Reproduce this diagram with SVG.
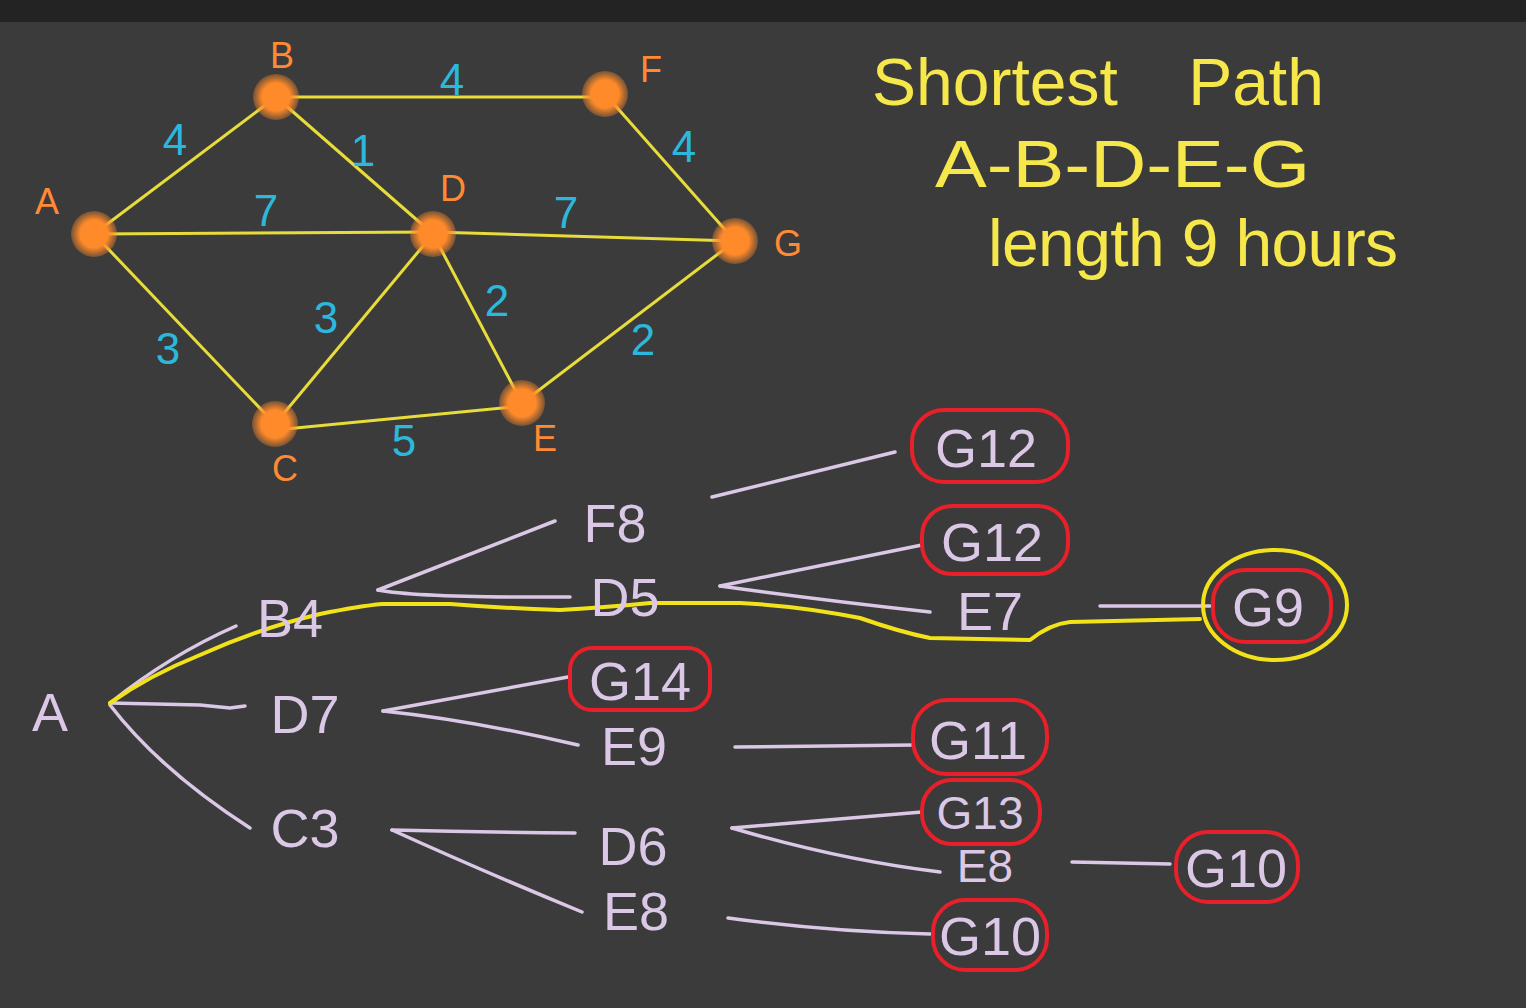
<svg xmlns="http://www.w3.org/2000/svg" width="1526" height="1008" viewBox="0 0 1526 1008">
<defs>
<radialGradient id="dot">
<stop offset="0.6" stop-color="#ff8a2a"/>
<stop offset="1" stop-color="#ff8a2a" stop-opacity="0.3"/>
</radialGradient>
</defs>
<style>
text{font-family:"Liberation Sans","DejaVu Sans",sans-serif;}
.edge{stroke:#e8dc3a;stroke-width:3;fill:none;}
.w{fill:#2bb8dc;font-size:44px;text-anchor:middle;}
.nl{fill:#ff8a33;font-size:36px;text-anchor:middle;}
.title{fill:#f6e84a;font-size:66px;}
.tl{stroke:#dac8e6;stroke-width:3.5;fill:none;stroke-linecap:round;stroke-linejoin:round;}
.tt{fill:#dac8e6;font-size:54px;text-anchor:middle;}
.sm{font-size:46px;}
.red{stroke:#e8202a;stroke-width:4;fill:none;}
.yel{stroke:#f2e21a;stroke-width:4;fill:none;stroke-linecap:round;stroke-linejoin:round;}
</style>
<rect width="1526" height="1008" fill="#3b3b3b"/>
<rect width="1526" height="22" fill="#232323"/>

<g id="graph-edges">
<line class="edge" x1="94" y1="234" x2="276" y2="97"/>
<line class="edge" x1="276" y1="97" x2="605" y2="97"/>
<line class="edge" x1="276" y1="97" x2="433" y2="234"/>
<line class="edge" x1="94" y1="234" x2="433" y2="232"/>
<line class="edge" x1="433" y1="232" x2="735" y2="241"/>
<line class="edge" x1="605" y1="94" x2="735" y2="241"/>
<line class="edge" x1="94" y1="234" x2="275" y2="424"/>
<line class="edge" x1="433" y1="234" x2="275" y2="424"/>
<line class="edge" x1="433" y1="234" x2="522" y2="403"/>
<line class="edge" x1="735" y1="241" x2="522" y2="403"/>
<line class="edge" x1="275" y1="430" x2="522" y2="406"/>
</g>
<g id="weights">
<text class="w" x="175" y="155">4</text>
<text class="w" x="452" y="95">4</text>
<text class="w" x="363" y="166">1</text>
<text class="w" x="266" y="226">7</text>
<text class="w" x="566" y="228">7</text>
<text class="w" x="684" y="162">4</text>
<text class="w" x="168" y="364">3</text>
<text class="w" x="326" y="333">3</text>
<text class="w" x="497" y="316">2</text>
<text class="w" x="643" y="355">2</text>
<text class="w" x="404" y="456">5</text>
</g>
<g id="node-A"><circle cx="94" cy="234" r="23" fill="url(#dot)"/><text class="nl" x="47" y="214">A</text></g>
<g id="node-B"><circle cx="276" cy="97" r="23" fill="url(#dot)"/><text class="nl" x="282" y="68">B</text></g>
<g id="node-F"><circle cx="605" cy="94" r="23" fill="url(#dot)"/><text class="nl" x="651" y="82">F</text></g>
<g id="node-D"><circle cx="433" cy="234" r="23" fill="url(#dot)"/><text class="nl" x="453" y="201">D</text></g>
<g id="node-G"><circle cx="735" cy="241" r="23" fill="url(#dot)"/><text class="nl" x="788" y="256">G</text></g>
<g id="node-C"><circle cx="275" cy="424" r="23" fill="url(#dot)"/><text class="nl" x="285" y="481">C</text></g>
<g id="node-E"><circle cx="522" cy="403" r="23" fill="url(#dot)"/><text class="nl" x="545" y="451">E</text></g>

<g id="title">
<text class="title" x="872" y="105" word-spacing="52">Shortest Path</text>
<text class="title" x="935" y="187" textLength="375" lengthAdjust="spacingAndGlyphs">A-B-D-E-G</text>
<text class="title" x="988" y="266" textLength="410" lengthAdjust="spacing">length 9 hours</text>
</g>

<g id="tree-connectors">
<path class="tl" d="M110 703 Q170 655 236 626"/>
<path class="tl" d="M110 703 L200 705 L230 708 L245 706"/>
<path class="tl" d="M110 705 Q160 770 250 828"/>
<path class="tl" d="M378 590 L555 521"/>
<path class="tl" d="M378 590 Q420 598 570 597"/>
<path class="tl" d="M383 711 L568 677"/>
<path class="tl" d="M383 711 Q470 720 578 745"/>
<path class="tl" d="M392 830 Q480 832 575 833"/>
<path class="tl" d="M392 830 Q480 870 582 912"/>
<path class="tl" d="M712 497 L895 452"/>
<path class="tl" d="M720 586 L922 545"/>
<path class="tl" d="M720 586 Q820 600 930 612"/>
<path class="tl" d="M735 747 L913 745"/>
<path class="tl" d="M732 828 Q830 820 922 812"/>
<path class="tl" d="M732 828 Q840 860 940 872"/>
<path class="tl" d="M1072 862 L1170 864"/>
<path class="tl" d="M728 918 Q830 932 930 934"/>
<path class="tl" d="M1100 606 L1210 606"/>
<path class="yel" d="M110 703 Q150 675 200 655 Q260 628 320 614 Q360 606 382 604 L450 604 Q500 608 560 610 Q610 607 650 603 L740 603 Q800 606 860 618 Q900 632 930 638 L1030 640 Q1050 624 1070 622 L1200 619"/>
</g>

<g id="n-A"><text class="tt" x="50" y="731">A</text></g>
<g id="n-B4"><text class="tt" x="290" y="637">B4</text></g>
<g id="n-D7"><text class="tt" x="305" y="733">D7</text></g>
<g id="n-C3"><text class="tt" x="305" y="847">C3</text></g>
<g id="n-F8"><text class="tt" x="615" y="542">F8</text></g>
<g id="n-D5"><text class="tt" x="625" y="616">D5</text></g>
<g id="n-G14"><rect class="red" x="570" y="648" width="140" height="62" rx="22"/><text class="tt" x="640" y="700">G14</text></g>
<g id="n-E9"><text class="tt" x="634" y="765">E9</text></g>
<g id="n-D6"><text class="tt" x="633" y="865">D6</text></g>
<g id="n-E8a"><text class="tt" x="636" y="930">E8</text></g>
<g id="n-G12a"><rect class="red" x="912" y="410" width="156" height="72" rx="32"/><text class="tt" x="986" y="467">G12</text></g>
<g id="n-G12b"><rect class="red" x="922" y="506" width="146" height="68" rx="30"/><text class="tt" x="992" y="561">G12</text></g>
<g id="n-E7"><text class="tt" x="990" y="630">E7</text></g>
<g id="n-G9"><ellipse class="yel" cx="1275" cy="605" rx="72" ry="55"/><rect class="red" x="1213" y="570" width="118" height="72" rx="32"/><text class="tt" x="1268" y="626">G9</text></g>
<g id="n-G11"><rect class="red" x="913" y="700" width="134" height="74" rx="34"/><text class="tt" x="978" y="759">G11</text></g>
<g id="n-G13"><rect class="red" x="922" y="780" width="118" height="64" rx="30"/><text class="tt sm" x="980" y="829">G13</text></g>
<g id="n-E8b"><text class="tt sm" x="985" y="882">E8</text></g>
<g id="n-G10a"><rect class="red" x="1176" y="832" width="122" height="70" rx="32"/><text class="tt" x="1236" y="887">G10</text></g>
<g id="n-G10b"><rect class="red" x="933" y="900" width="114" height="70" rx="32"/><text class="tt" x="990" y="955">G10</text></g>
</svg>
